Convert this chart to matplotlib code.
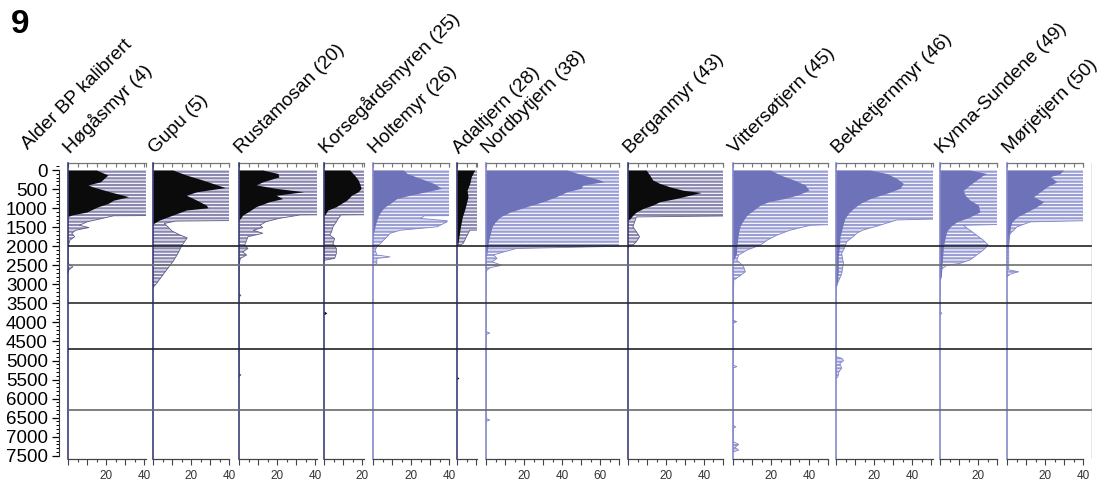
import numpy as np
import matplotlib
matplotlib.use('Agg')
import matplotlib.pyplot as plt
from matplotlib.ticker import MultipleLocator, FixedLocator

plt.rcParams['font.family'] = ['Liberation Sans', 'DejaVu Sans']
plt.rcParams['hatch.linewidth'] = 1.6

# ---- data (age cal BP vs. pollen %, main curve + x10 exaggeration outline) ----
# 99 in an exaggeration series means "off scale" (runs to the panel edge)
hog_age = [0, 130, 310, 390, 440, 570, 700, 790, 880, 960, 1050, 1100, 1180, 1220]
hog = [15, 21, 17, 10.5, 13, 22, 32, 24, 21, 16, 12, 10, 2, 0]
hog_ex_age = [0, 1180, 1200, 1270, 1360, 1450, 1510, 1580, 1660, 1750, 1840, 1930, 2000, 2450, 2540, 2620, 2700]
hog_ex = [99, 99, 24, 18, 10, 6, 11, 4, 2, 3.5, 1, 0.5, 0, 0, 2.5, 0.5, 0]

gupu_age = [0, 130, 260, 460, 570, 660, 790, 920, 990, 1050, 1180, 1310, 1380, 1420]
gupu = [10.5, 17.5, 26, 38, 23, 17.5, 23, 28, 29, 17.5, 10.5, 3.5, 1, 0]
gupu_ex_age = [0, 1300, 1340, 1400, 1500, 1600, 1700, 1780, 1850, 2000, 2200, 2400, 2600, 2800, 3000, 3080]
gupu_ex = [99, 99, 12, 6, 8, 10, 14, 18, 17, 15, 13, 10.5, 7.5, 4.5, 1.5, 0]

rust_age = [0, 90, 180, 310, 390, 480, 570, 660, 750, 830, 960, 1100, 1180, 1270, 1320]
rust = [12.5, 20.5, 21, 12.5, 9, 19.5, 34, 19.5, 23, 16, 9, 4.7, 2, 0.7, 0]
rust_ex_age = [0, 1150, 1180, 1270, 1360, 1450, 1510, 1580, 1660, 1750, 1840, 1970, 2060, 2150,
               2230, 2320, 2410, 2450, 3250, 3290, 3330, 5340, 5380, 5420]
rust_ex = [99, 99, 32, 21, 14, 11, 12.5, 7.5, 12.5, 4.7, 4, 3, 4.7, 2,
           4, 0.7, 0.3, 0, 0, 1, 0, 0, 1, 0]

kors_age = [0, 130, 260, 390, 480, 570, 660, 790, 880, 960, 1050, 1140, 1200, 3700, 3750, 3800]
kors = [13.5, 16, 18, 19, 19.5, 18, 14.5, 12, 9, 6.5, 2, 0.9, 0, 0, 1.5, 0]
kors_ex_age = [0, 1140, 1180, 1270, 1360, 1490, 1620, 1710, 1800, 1930, 2060, 2190, 2320, 2370]
kors_ex = [99, 99, 9, 7.5, 6.5, 4.7, 4, 3, 5.6, 4.7, 6.5, 6.5, 5.6, 0]

holt_age = [0, 90, 220, 350, 480, 570, 660, 750, 880, 960, 1050, 1180, 1310, 1450, 1580, 1700]
holt = [16, 18, 25, 32, 36, 28, 19.5, 12.5, 9, 6.5, 4.7, 3, 2, 1.2, 0.7, 0]
holt_ex_age = [0, 1180, 1200, 1270, 1330, 1360, 1490, 1580, 1660, 1750, 1840, 1930, 2010,
               2100, 2230, 2280, 2320, 2450, 2500, 2540]
holt_ex = [99, 99, 27, 25, 39, 39, 33.7, 14.4, 9, 7.4, 5.6, 3.9, 2,
           1.2, 2, 9, 2, 2, 0.3, 0]

adal_age = [0, 175, 350, 530, 700, 880, 1050, 1230, 1360, 1490, 1750, 1930, 2000, 5420, 5460, 5500]
adal = [9.3, 7.5, 6.7, 5.3, 5.8, 4.9, 4, 2.8, 2.3, 1.8, 1, 0.5, 0, 0, 1, 0]
adal_ex_age = [0, 1490, 1580, 1750, 1930, 2000]
adal_ex = [99, 99, 6.7, 5, 3.2, 0]

nord_age = [0, 130, 260, 310, 390, 480, 570, 700, 830, 960, 1100, 1230, 1360, 1490, 1660, 1840, 2020, 2190, 2300]
nord = [42.6, 51, 60, 62, 51, 50, 42.6, 37, 30, 21.6, 12.8, 7.5, 4.9, 3.2, 2.3, 1.4, 0.9, 0.5, 0]
nord_ex_age = [0, 1970, 2060, 2150, 2230, 2320, 2410, 2500, 2560, 2630, 2700, 4240, 4280, 4320, 6520, 6560, 6600]
nord_ex = [99, 99, 16, 9.3, 4, 5.8, 3.2, 8.4, 2.3, 0.5, 0, 0, 2, 0, 0, 2, 0]

berg_age = [0, 130, 260, 350, 440, 530, 590, 660, 750, 830, 920, 1010, 1100, 1180, 1270, 1320]
berg = [9.6, 11.4, 13, 16.7, 22, 29, 38.6, 32.5, 25, 16.7, 13, 7.9, 4.4, 2.6, 1.2, 0]
berg_ex_age = [0, 1180, 1230, 1360, 1490, 1620, 1750, 1880, 1970, 2010, 2050]
berg_ex = [99, 99, 4.4, 3.5, 2.6, 4.4, 6.1, 4.4, 2.6, 0.5, 0]

vitt_age = [0, 130, 260, 390, 530, 660, 750, 830, 920, 1050, 1180, 1310, 1450, 1620, 1800, 2010, 2190, 2400]
vitt = [19.6, 25, 32, 38, 40, 33.7, 26.7, 18.8, 14.4, 10.9, 7.4, 5.6, 3.9, 3, 2.5, 2, 1.8, 0]
vitt_ex_age = [0, 1360, 1450, 1580, 1710, 1840, 1970, 2100, 2230, 2370, 2450, 2540, 2670, 2800, 2890,
               3940, 3980, 4020, 5120, 5160, 5200, 6700, 6740, 6780, 7130, 7200, 7280, 7350, 7400]
vitt_ex = [99, 99, 40.7, 30, 23, 18, 14.4, 7.4, 3, 2, 3.9, 5.6, 6.5, 3, 0.4,
           0, 2, 0, 0, 2, 0, 0, 1.5, 0, 0, 3, 1, 3, 0]

bekk_age = [0, 90, 220, 350, 480, 610, 750, 880, 1010, 1140, 1270, 1400, 1580, 1750, 2020, 2280, 2630, 2980, 3100]
bekk = [17.9, 26.7, 32, 35.4, 33.7, 26.7, 17.9, 12.6, 9.1, 6.5, 4.7, 3.9, 3, 2.1, 1.8, 1.2, 1.2, 0.7, 0]
bekk_ex_age = [0, 1230, 1310, 1450, 1580, 1660, 1750, 1880, 2020, 2190, 2450, 2720, 2930, 3050,
               4900, 4940, 5000, 5080, 5200, 5300, 5430, 5470]
bekk_ex = [99, 99, 32, 23, 14, 10.9, 9, 5.6, 4.7, 3, 3.9, 3, 1.2, 0,
           0, 3, 4, 2, 3, 1.5, 1, 0]

kynn_age = [0, 90, 130, 260, 390, 530, 660, 790, 920, 1100, 1230, 1360, 1490, 1620, 1800, 2020, 2280, 2540, 2800, 2900]
kynn = [15.8, 24.6, 22.8, 19.3, 15.8, 12.3, 13.2, 15.8, 20.2, 21, 15.8, 8.8, 5.3, 3.5, 2.6, 1.8, 1.4, 1, 0.7, 0]
kynn_ex_age = [0, 1360, 1450, 1580, 1710, 1840, 1970, 2100, 2230, 2360, 2450, 2500, 2580, 2650, 3720, 3760, 3800]
kynn_ex = [99, 99, 12.3, 15.8, 19.3, 22.8, 25.4, 22.8, 19.3, 15.8, 10.5, 3.5, 1.4, 0, 0, 1, 0]

morj_age = [0, 90, 175, 310, 440, 570, 700, 830, 960, 1100, 1230, 1360, 1490, 1660, 1930, 2050]
morj = [29.8, 28, 22.8, 26.3, 21, 17.5, 14, 19.3, 15.8, 10.5, 5.3, 2.6, 1.8, 1.4, 0.9, 0]
morj_ex_age = [0, 1270, 1360, 1490, 1580, 1660, 1750, 2620, 2670, 2730, 2800]
morj_ex = [99, 99, 12.3, 5.3, 3.5, 1.8, 0.9, 0.9, 6.1, 1.8, 0]

site_names = ['Høgåsmyr (4)', 'Gupu (5)', 'Rustamosan (20)', 'Korsegårdsmyren (25)', 'Holtemyr (26)',
              'Adaltjern (28)', 'Nordbytjern (38)', 'Berganmyr (43)', 'Vittersøtjern (45)',
              'Bekketjernmyr (46)', 'Kynna-Sundene (49)', 'Mørjetjern (50)']
site_xmax = [41, 40, 41, 21, 40, 10.5, 70, 50, 50, 51, 30, 40]
site_black = [True, True, True, True, False, True, False, True, False, False, False, False]
zone_ages = [2000, 2500, 3500, 4700, 6300]
zone_colors = ['#222222', '#6e6e6e', '#2c2c2c', '#222222', '#6a6a6a']
age_ticks = np.arange(0, 7501, 500)

series = [(hog_age, hog, hog_ex_age, hog_ex), (gupu_age, gupu, gupu_ex_age, gupu_ex),
          (rust_age, rust, rust_ex_age, rust_ex), (kors_age, kors, kors_ex_age, kors_ex),
          (holt_age, holt, holt_ex_age, holt_ex), (adal_age, adal, adal_ex_age, adal_ex),
          (nord_age, nord, nord_ex_age, nord_ex), (berg_age, berg, berg_ex_age, berg_ex),
          (vitt_age, vitt, vitt_ex_age, vitt_ex), (bekk_age, bekk, bekk_ex_age, bekk_ex),
          (kynn_age, kynn, kynn_ex_age, kynn_ex), (morj_age, morj, morj_ex_age, morj_ex)]

# ---- layout (pixels) ----
W, H = 1109, 482
PANEL_LEFT = [68, 153, 239, 324, 373, 457, 486, 628, 733, 836, 940, 1007]
PX_PER_UNIT = 1.9
TOP, HEIGHT = 163, 296
AGE_TOP, AGE_BOTTOM = -185, 7585
RIGHT_EDGE = 1092
TITLE_SIZE = 13.8

BLACK_STYLE = dict(fill='#0b0b0b', hatch='#8a87b0', edge='#5d5b86', spine='#2b2d6e')
BLUE_STYLE = dict(fill='#6e72b8', hatch='#9a9ed5', edge='#7f83c4', spine='#7b80c8')


def px_rect(left, top, width, height):
    return [left / W, 1 - (top + height) / H, width / W, height / H]


def draw_panel(fig, left, xmax, data, style):
    age, pct, ex_age, ex = data
    ax = fig.add_axes(px_rect(left, TOP, xmax * PX_PER_UNIT, HEIGHT))
    ax.set_xlim(0, xmax)
    ax.set_ylim(AGE_BOTTOM, AGE_TOP)
    ax.patch.set_alpha(0)

    ax.fill_betweenx(ex_age, 0, ex, facecolor='white', edgecolor=style['hatch'],
                     hatch='-----', linewidth=0)
    ax.plot(ex, ex_age, color=style['edge'], lw=0.6)
    ax.fill_betweenx(age, 0, pct, color=style['fill'], lw=0)

    ax.spines['right'].set_visible(False)
    ax.spines['top'].set_visible(False)
    ax.spines['left'].set_color(style['spine'])
    ax.spines['left'].set_linewidth(1.1)
    ax.spines['bottom'].set_color('#444444')
    ax.spines['bottom'].set_linewidth(0.9)
    ax.yaxis.set_visible(False)

    ax.xaxis.set_major_locator(MultipleLocator(10))
    ax.xaxis.set_minor_locator(MultipleLocator(5))
    ax.tick_params(axis='x', which='major', length=4, width=0.8, color='#444444',
                   labelsize=8.5, labelcolor='#333333', pad=4)
    ax.tick_params(axis='x', which='minor', length=2.5, width=0.8, color='#444444')
    ticks = ax.get_xticks()
    ax.set_xticks(ticks)
    ax.set_xticklabels([f'{t:.0f}' if t in (20, 40, 60) else '' for t in ticks])
    ax.set_xlim(0, xmax)

    # top bracket with inward ticks
    top = ax.secondary_xaxis('top')
    top.spines['top'].set_color('#777777')
    top.spines['top'].set_linewidth(0.9)
    top.xaxis.set_major_locator(FixedLocator(list(np.arange(0, xmax + 0.01, 5)) + [xmax]))
    top.tick_params(direction='in', length=3, width=0.8, color='#777777', labeltop=False)
    return ax


def plot_diagram():
    fig = plt.figure(figsize=(W / 100, H / 100), dpi=100, facecolor='white')

    # age axis
    yax = fig.add_axes(px_rect(59, TOP, 1, HEIGHT))
    yax.set_ylim(AGE_BOTTOM, AGE_TOP)
    yax.patch.set_alpha(0)
    for side in ['top', 'right', 'bottom']:
        yax.spines[side].set_visible(False)
    yax.spines['left'].set_bounds(0, 7500)
    yax.spines['left'].set_color('#333333')
    yax.set_xticks([])
    yax.set_yticks(age_ticks)
    yax.yaxis.set_minor_locator(MultipleLocator(100))
    yax.tick_params(axis='y', which='major', length=5, width=0.9, labelsize=13.5, pad=3)
    yax.tick_params(axis='y', which='minor', length=2.5, width=0.7)

    for name, left, xmax, black, data in zip(site_names, PANEL_LEFT, site_xmax, site_black, series):
        draw_panel(fig, left, xmax, data, BLACK_STYLE if black else BLUE_STYLE)
        fig.text((left + 2) / W, 1 - 154 / H, name, rotation=45, rotation_mode='anchor',
                 ha='left', va='baseline', fontsize=TITLE_SIZE)

    fig.text(28 / W, 1 - 150 / H, 'Alder BP kalibrert', rotation=45, rotation_mode='anchor',
             ha='left', va='baseline', fontsize=TITLE_SIZE)
    fig.text(11 / W, 1 - 33 / H, '9', fontsize=24, fontweight='bold', ha='left', va='baseline')

    # zone lines across all panels
    over = fig.add_axes(px_rect(68, TOP, RIGHT_EDGE - 68, HEIGHT))
    over.set_ylim(AGE_BOTTOM, AGE_TOP)
    over.set_xlim(0, 1)
    over.axis('off')
    for a, c in zip(zone_ages, zone_colors):
        over.axhline(a, color=c, lw=1.2)
    over.axvline(1, color='#8a8a8a', lw=1.0)

    fig.savefig('out.png', dpi=100, facecolor='white')


plot_diagram()
